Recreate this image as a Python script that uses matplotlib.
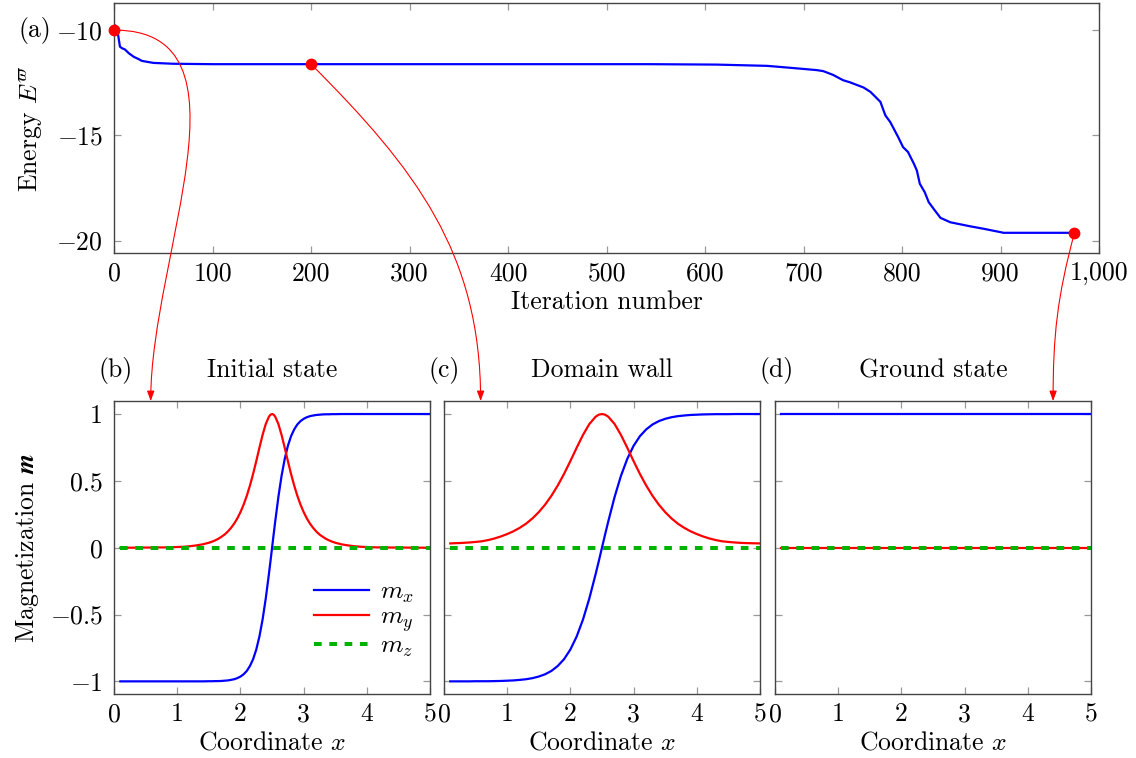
"""Energy descent and magnetization profiles figure."""

import matplotlib
matplotlib.use("Agg")
import matplotlib.pyplot as plt
import numpy as np
from matplotlib.patches import FancyArrowPatch
from matplotlib.path import Path
from matplotlib.transforms import blended_transform_factory
from matplotlib.ticker import FuncFormatter

FS = 18.5
plt.rcParams.update({
    "font.family": "serif",
    "font.serif": ["cmr10"],
    "mathtext.fontset": "cm",
    "axes.formatter.use_mathtext": True,
    "font.size": FS,
})

BLUE = "#0000ff"
RED = "#ff0000"
GREEN = "#00b300"
SPINE = "#444444"
TICK = "#999999"

# (a) energy vs iteration
iters = [0, 1.5, 3, 6, 8, 11, 15, 20, 25, 28, 35, 40, 50, 60, 80, 100, 200, 300,
         400, 500, 544, 612, 663, 686, 713, 720, 730, 740, 747, 761, 768, 778,
         783, 788, 796, 801, 806, 812, 815, 818, 823, 827, 832, 839, 849, 869,
         883, 900, 903, 975]
energy = [-10.0, -9.78, -9.9, -10.79, -10.86, -10.92, -11.1, -11.27, -11.38,
          -11.46, -11.52, -11.56, -11.58, -11.6, -11.61, -11.62, -11.62, -11.62,
          -11.62, -11.62, -11.62, -11.64, -11.70, -11.79, -11.90, -11.95,
          -12.13, -12.38, -12.48, -12.73, -12.94, -13.41, -14.05, -14.37,
          -15.08, -15.56, -15.79, -16.35, -16.67, -17.30, -17.70, -18.17,
          -18.49, -18.92, -19.13, -19.32, -19.44, -19.60, -19.63, -19.63]
snap_iters = [0, 200, 975]
snap_energy = [-10.0, -11.62, -19.63]

# (b) initial state
x_b = [0.1, 0.2, 0.3, 0.4, 0.5, 0.6, 0.7, 0.8, 0.9, 1.0, 1.1, 1.2, 1.3, 1.4, 1.5,
       1.55, 1.6, 1.65, 1.7, 1.75, 1.8, 1.85, 1.9, 1.95, 2.0, 2.05, 2.1, 2.15,
       2.2, 2.25, 2.3, 2.35, 2.4, 2.45, 2.475, 2.5, 2.525, 2.55, 2.6, 2.65, 2.7,
       2.75, 2.8, 2.85, 2.9, 2.95, 3.0, 3.05, 3.1, 3.15, 3.2, 3.25, 3.3, 3.35,
       3.4, 3.45, 3.5, 3.6, 3.7, 3.8, 3.9, 4.0, 4.1, 4.2, 4.3, 4.4, 4.5, 4.6,
       4.7, 4.8, 4.9, 5.0]
mx_b = [-1.0, -1.0, -1.0, -1.0, -1.0, -1.0, -1.0, -1.0, -1.0, -1.0, -1.0, -1.0,
        -1.0, -1.0, -0.999, -0.999, -0.998, -0.998, -0.997, -0.995, -0.993,
        -0.989, -0.984, -0.976, -0.964, -0.947, -0.922, -0.885, -0.834, -0.762,
        -0.664, -0.537, -0.380, -0.197, -0.100, 0.0, 0.100, 0.197, 0.380, 0.537,
        0.664, 0.762, 0.834, 0.885, 0.922, 0.947, 0.964, 0.976, 0.984, 0.989,
        0.993, 0.995, 0.997, 0.998, 0.998, 0.999, 0.999, 1.0, 1.0, 1.0, 1.0,
        1.0, 1.0, 1.0, 1.0, 1.0, 1.0, 1.0, 1.0, 1.0, 1.0, 1.0]
my_b = [0.0, 0.0, 0.0, 0.001, 0.001, 0.001, 0.002, 0.002, 0.003, 0.005, 0.007,
        0.011, 0.017, 0.025, 0.037, 0.045, 0.055, 0.067, 0.082, 0.099, 0.121,
        0.148, 0.180, 0.219, 0.266, 0.322, 0.388, 0.465, 0.552, 0.648, 0.748,
        0.844, 0.925, 0.980, 0.995, 1.0, 0.995, 0.980, 0.925, 0.844, 0.748,
        0.648, 0.552, 0.465, 0.388, 0.322, 0.266, 0.219, 0.180, 0.148, 0.121,
        0.099, 0.082, 0.067, 0.055, 0.045, 0.037, 0.025, 0.017, 0.011, 0.007,
        0.005, 0.003, 0.002, 0.002, 0.001, 0.001, 0.001, 0.0, 0.0, 0.0, 0.0]

# (c) domain wall
x_c = [0.1, 0.2, 0.3, 0.4, 0.5, 0.6, 0.7, 0.8, 0.9, 1.0, 1.1, 1.2, 1.3, 1.4, 1.5,
       1.6, 1.7, 1.8, 1.9, 2.0, 2.1, 2.2, 2.3, 2.4, 2.45, 2.5, 2.55, 2.6, 2.7,
       2.8, 2.9, 3.0, 3.1, 3.2, 3.3, 3.4, 3.5, 3.6, 3.7, 3.8, 3.9, 4.0, 4.1,
       4.2, 4.3, 4.4, 4.5, 4.6, 4.7, 4.8, 4.9, 5.0]
mx_c = [-1.0, -1.0, -1.0, -1.0, -0.999, -0.999, -0.999, -0.998, -0.997, -0.995,
        -0.993, -0.989, -0.984, -0.976, -0.964, -0.947, -0.922, -0.885, -0.834,
        -0.762, -0.664, -0.537, -0.380, -0.197, -0.100, 0.0, 0.100, 0.197, 0.380,
        0.537, 0.664, 0.762, 0.834, 0.885, 0.922, 0.947, 0.964, 0.976, 0.984,
        0.989, 0.993, 0.995, 0.997, 0.998, 0.999, 0.999, 0.999, 1.0, 1.0, 1.0,
        1.0, 1.0]
my_c = [0.032, 0.034, 0.036, 0.039, 0.043, 0.048, 0.057, 0.069, 0.084, 0.102,
        0.123, 0.149, 0.180, 0.219, 0.266, 0.322, 0.388, 0.465, 0.552, 0.648,
        0.748, 0.844, 0.925, 0.980, 0.995, 1.0, 0.995, 0.980, 0.925, 0.844,
        0.748, 0.648, 0.552, 0.465, 0.388, 0.322, 0.266, 0.219, 0.180, 0.149,
        0.123, 0.102, 0.084, 0.069, 0.057, 0.048, 0.043, 0.039, 0.036, 0.034,
        0.033, 0.032]

# (d) ground state
x_d = [0.1, 5.0]
mx_d = [1.0, 1.0]
my_d = [0.0, 0.0]

x_z = [0.1, 5.0]
mz = [0.0, 0.0]

panels = [
    ("(b)", "Initial state", x_b, mx_b, my_b, 0.58),
    ("(c)", "Domain wall", x_c, mx_c, my_c, 0.58),
    ("(d)", "Ground state", x_d, mx_d, my_d, 4.4),
]


def tick_text(v, pos=None):
    # pgfplots style: comma thousands separator, math minus
    if v < 0:
        return f"$-{-v:g}$"
    if v >= 1000:
        return f"{v:,.0f}"
    return f"{v:g}"


def style_axes(ax):
    for sp in ax.spines.values():
        sp.set_color(SPINE)
        sp.set_linewidth(1.0)
    ax.tick_params(direction="in", length=5, width=0.9, color=TICK,
                   top=True, right=True, labelsize=FS)
    ax.tick_params(axis="x", pad=6)
    ax.tick_params(axis="y", pad=8)
    ax.xaxis.set_major_formatter(FuncFormatter(tick_text))
    ax.yaxis.set_major_formatter(FuncFormatter(tick_text))


fig = plt.figure(figsize=(11.36, 7.58), dpi=100)

ax_top = fig.add_axes([0.1004, 0.6662, 0.8671, 0.3294])
ax_top.plot(iters, energy, color=BLUE, lw=1.6)
ax_top.plot(snap_iters, snap_energy, "o", color=RED, ms=7.5, clip_on=False, zorder=5)
ax_top.set_xlim(0, 1000)
ax_top.set_ylim(-20.59, -8.73)
ax_top.set_xticks(np.arange(0, 1001, 100))
ax_top.set_yticks([-20, -15, -10])
ax_top.set_xlabel("Iteration number", labelpad=4)
ax_top.set_ylabel(r"Energy $E^{\varpi}$", labelpad=8)
style_axes(ax_top)
ax_top.text(-0.0965, -10, "(a)", ha="left", va="center",
            transform=blended_transform_factory(ax_top.transAxes, ax_top.transData))

lefts = [0.1004, 0.3908, 0.6822]
bottom_axes = []
for left, (tag, title, xs, mx, my, arrow_x) in zip(lefts, panels):
    ax = fig.add_axes([left, 0.0840, 0.2782, 0.3869])
    ax.plot(xs, mx, color=BLUE, lw=1.6, label=r"$m_x$")
    ax.plot(xs, my, color=RED, lw=1.6, label=r"$m_y$")
    ax.plot(x_z, mz, color=GREEN, lw=2.9, ls=(0, (1.9, 1.9)), label=r"$m_z$")
    ax.set_xlim(0, 5)
    ax.set_ylim(-1.097, 1.097)
    ax.set_xticks([0, 1, 2, 3, 4, 5])
    ax.set_yticks([-1, -0.5, 0, 0.5, 1])
    ax.set_xlabel(r"Coordinate $x$", labelpad=3)
    style_axes(ax)
    ax.annotate(title, xy=(0.5, 1), xycoords="axes fraction", xytext=(0, 17),
                textcoords="offset points", ha="center", va="baseline")
    ax.annotate(tag, xy=(0, 1), xycoords="axes fraction", xytext=(-11, 17),
                textcoords="offset points", ha="left", va="baseline")
    bottom_axes.append((ax, arrow_x))

ax_b = bottom_axes[0][0]
ax_b.set_ylabel(r"Magnetization $\mathbfit{m}$", labelpad=6)
for ax, _ in bottom_axes[1:]:
    ax.tick_params(labelleft=False)
ax_b.legend(loc="upper left", bbox_to_anchor=(0.633, 0.39), frameon=False,
            borderpad=0, borderaxespad=0, handlelength=2.15, handletextpad=0.4,
            labelspacing=0.0)


def curved_arrow(p0, p3, out_deg, in_deg=90, looseness=0.3915):
    """tikz-style 'to[out=..,in=..]' arrow between two display points."""
    p0 = np.asarray(p0, float)
    p3 = np.asarray(p3, float)
    d = looseness * np.hypot(*(p3 - p0))
    a, b = np.deg2rad(out_deg), np.deg2rad(in_deg)
    p1 = p0 + d * np.array([np.cos(a), np.sin(a)])
    p2 = p3 + d * np.array([np.cos(b), np.sin(b)])
    pts = fig.transFigure.inverted().transform(np.vstack([p0, p1, p2, p3]))
    path = Path(pts, [Path.MOVETO, Path.CURVE4, Path.CURVE4, Path.CURVE4])
    arr = FancyArrowPatch(path=path, arrowstyle="-|>,head_length=0.6,head_width=0.22",
                          mutation_scale=10, color=RED, lw=0.8,
                          transform=fig.transFigure, zorder=6)
    fig.add_artist(arr)


out_angles = [0, -45, -105]
for (ax, arrow_x), it, en, ang in zip(bottom_axes, snap_iters, snap_energy, out_angles):
    start = ax_top.transData.transform((it, en))
    end = blended_transform_factory(ax.transData, ax.transAxes).transform((arrow_x, 1.0))
    curved_arrow(start, end, ang)

fig.savefig("out.png", dpi=100)
